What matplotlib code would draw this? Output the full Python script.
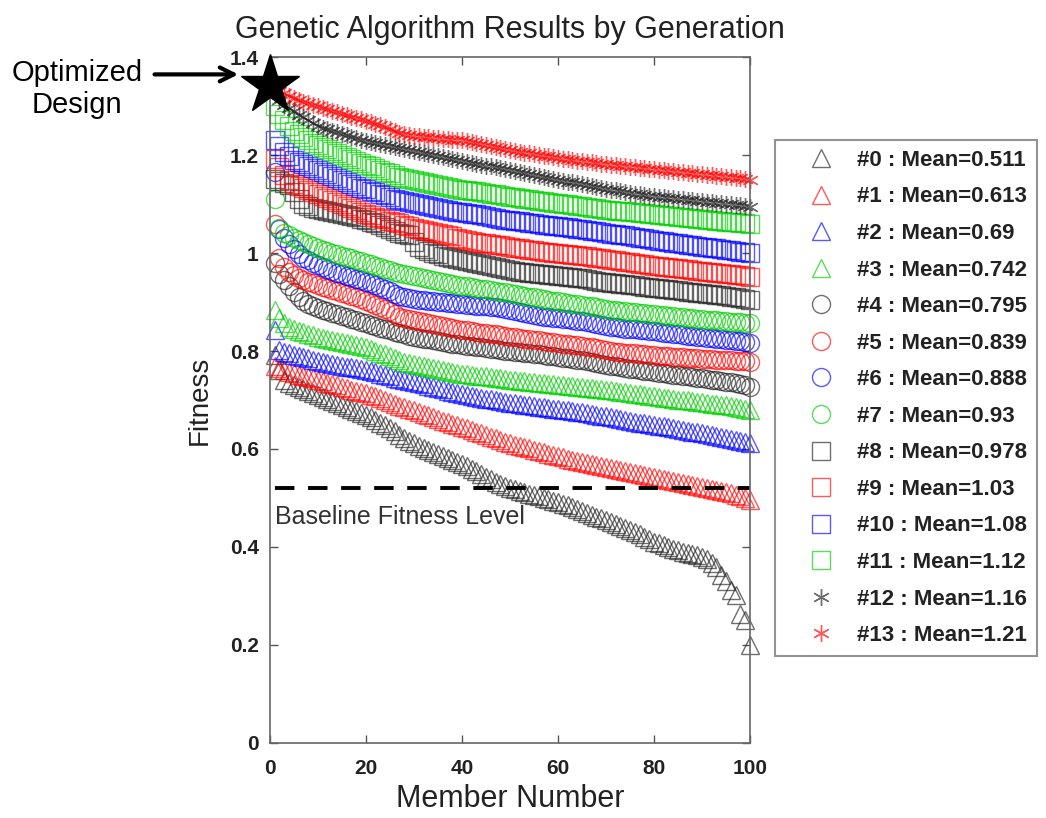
import matplotlib
matplotlib.use("Agg")
import matplotlib.pyplot as plt
from matplotlib.ticker import FixedLocator, FixedFormatter

plt.rcParams['font.family'] = ['Liberation Sans', 'DejaVu Sans']

# member numbers 1..100 (x axis)
members = list(range(1, 101))

# fitness of each member, sorted, one list per generation
gen0 = [0.792, 0.762, 0.740, 0.735, 0.730, 0.726, 0.722, 0.718, 0.714, 0.710,
        0.706, 0.702, 0.698, 0.694, 0.690, 0.686, 0.682, 0.678, 0.674, 0.670,
        0.665, 0.660, 0.654, 0.648, 0.642, 0.636, 0.628, 0.622, 0.617, 0.612,
        0.607, 0.602, 0.598, 0.594, 0.590, 0.586, 0.582, 0.578, 0.574, 0.570,
        0.565, 0.560, 0.555, 0.549, 0.543, 0.538, 0.533, 0.529, 0.525, 0.521,
        0.518, 0.515, 0.512, 0.509, 0.506, 0.503, 0.500, 0.497, 0.494, 0.491,
        0.488, 0.485, 0.481, 0.478, 0.474, 0.470, 0.466, 0.462, 0.458, 0.455,
        0.451, 0.447, 0.443, 0.439, 0.435, 0.430, 0.426, 0.421, 0.416, 0.411,
        0.407, 0.403, 0.399, 0.396, 0.393, 0.390, 0.388, 0.386, 0.383, 0.380,
        0.375, 0.368, 0.358, 0.342, 0.330, 0.312, 0.302, 0.262, 0.250, 0.200]
gen1 = [0.770, 0.766, 0.762, 0.758, 0.755, 0.752, 0.749, 0.746, 0.744, 0.741,
        0.738, 0.735, 0.732, 0.730, 0.727, 0.724, 0.721, 0.719, 0.716, 0.714,
        0.711, 0.708, 0.704, 0.700, 0.696, 0.692, 0.688, 0.685, 0.682, 0.679,
        0.676, 0.672, 0.669, 0.665, 0.662, 0.658, 0.655, 0.651, 0.648, 0.645,
        0.642, 0.638, 0.635, 0.632, 0.628, 0.625, 0.622, 0.619, 0.615, 0.612,
        0.609, 0.606, 0.603, 0.601, 0.598, 0.595, 0.593, 0.590, 0.588, 0.585,
        0.583, 0.580, 0.578, 0.576, 0.574, 0.572, 0.570, 0.568, 0.566, 0.564,
        0.562, 0.560, 0.558, 0.555, 0.553, 0.551, 0.549, 0.547, 0.545, 0.543,
        0.541, 0.539, 0.537, 0.535, 0.533, 0.531, 0.529, 0.527, 0.525, 0.523,
        0.521, 0.519, 0.517, 0.515, 0.513, 0.510, 0.507, 0.504, 0.500, 0.496]
gen2 = [0.842, 0.803, 0.798, 0.795, 0.792, 0.790, 0.787, 0.785, 0.782, 0.780,
        0.778, 0.776, 0.774, 0.772, 0.770, 0.768, 0.767, 0.765, 0.763, 0.761,
        0.759, 0.757, 0.754, 0.751, 0.748, 0.745, 0.742, 0.740, 0.738, 0.736,
        0.734, 0.732, 0.729, 0.727, 0.724, 0.722, 0.719, 0.717, 0.714, 0.712,
        0.710, 0.708, 0.707, 0.705, 0.703, 0.702, 0.700, 0.698, 0.696, 0.694,
        0.693, 0.691, 0.690, 0.689, 0.687, 0.686, 0.685, 0.683, 0.682, 0.681,
        0.680, 0.679, 0.677, 0.676, 0.675, 0.673, 0.672, 0.670, 0.668, 0.667,
        0.665, 0.663, 0.661, 0.660, 0.658, 0.656, 0.654, 0.653, 0.651, 0.649,
        0.647, 0.646, 0.644, 0.642, 0.640, 0.639, 0.637, 0.635, 0.634, 0.632,
        0.630, 0.628, 0.627, 0.625, 0.623, 0.621, 0.619, 0.617, 0.615, 0.612]
gen3 = [0.884, 0.868, 0.857, 0.850, 0.845, 0.841, 0.838, 0.835, 0.832, 0.829,
        0.827, 0.825, 0.823, 0.821, 0.819, 0.817, 0.815, 0.813, 0.811, 0.808,
        0.805, 0.801, 0.797, 0.793, 0.789, 0.785, 0.781, 0.778, 0.776, 0.774,
        0.772, 0.770, 0.768, 0.766, 0.764, 0.762, 0.760, 0.758, 0.756, 0.754,
        0.753, 0.752, 0.750, 0.749, 0.748, 0.747, 0.745, 0.744, 0.743, 0.741,
        0.740, 0.739, 0.738, 0.737, 0.736, 0.735, 0.734, 0.733, 0.732, 0.731,
        0.730, 0.729, 0.728, 0.727, 0.726, 0.725, 0.724, 0.723, 0.722, 0.721,
        0.720, 0.719, 0.717, 0.716, 0.715, 0.713, 0.712, 0.711, 0.709, 0.708,
        0.707, 0.705, 0.704, 0.703, 0.701, 0.700, 0.699, 0.697, 0.696, 0.695,
        0.694, 0.692, 0.691, 0.690, 0.689, 0.687, 0.686, 0.684, 0.682, 0.680]
gen4 = [0.980, 0.958, 0.945, 0.932, 0.920, 0.910, 0.902, 0.896, 0.891, 0.887,
        0.884, 0.881, 0.878, 0.875, 0.872, 0.869, 0.866, 0.863, 0.860, 0.857,
        0.854, 0.851, 0.848, 0.845, 0.842, 0.839, 0.836, 0.834, 0.831, 0.829,
        0.827, 0.825, 0.824, 0.822, 0.820, 0.819, 0.817, 0.815, 0.814, 0.812,
        0.811, 0.810, 0.809, 0.808, 0.806, 0.805, 0.804, 0.803, 0.801, 0.800,
        0.799, 0.798, 0.796, 0.795, 0.794, 0.793, 0.791, 0.790, 0.789, 0.788,
        0.786, 0.785, 0.784, 0.782, 0.781, 0.779, 0.778, 0.776, 0.774, 0.772,
        0.770, 0.769, 0.767, 0.766, 0.764, 0.763, 0.762, 0.760, 0.759, 0.757,
        0.756, 0.755, 0.753, 0.752, 0.751, 0.749, 0.748, 0.747, 0.745, 0.744,
        0.743, 0.741, 0.740, 0.739, 0.737, 0.736, 0.734, 0.732, 0.730, 0.727]
gen5 = [1.060, 0.990, 0.972, 0.962, 0.955, 0.950, 0.946, 0.942, 0.938, 0.934,
        0.931, 0.928, 0.925, 0.922, 0.919, 0.916, 0.913, 0.910, 0.906, 0.902,
        0.898, 0.894, 0.890, 0.886, 0.882, 0.876, 0.870, 0.867, 0.865, 0.863,
        0.861, 0.859, 0.857, 0.855, 0.853, 0.851, 0.849, 0.847, 0.845, 0.843,
        0.842, 0.840, 0.839, 0.837, 0.836, 0.835, 0.834, 0.832, 0.831, 0.829,
        0.828, 0.827, 0.825, 0.824, 0.823, 0.822, 0.820, 0.819, 0.818, 0.816,
        0.815, 0.814, 0.813, 0.812, 0.810, 0.809, 0.808, 0.806, 0.804, 0.802,
        0.800, 0.799, 0.798, 0.797, 0.796, 0.795, 0.794, 0.793, 0.792, 0.791,
        0.790, 0.789, 0.789, 0.788, 0.787, 0.787, 0.786, 0.785, 0.785, 0.784,
        0.783, 0.783, 0.782, 0.782, 0.781, 0.781, 0.780, 0.780, 0.779, 0.778]
gen6 = [1.165, 1.050, 1.030, 1.018, 1.008, 0.999, 0.991, 0.985, 0.980, 0.975,
        0.971, 0.967, 0.963, 0.960, 0.957, 0.954, 0.951, 0.948, 0.945, 0.942,
        0.939, 0.935, 0.931, 0.927, 0.922, 0.917, 0.912, 0.910, 0.908, 0.906,
        0.905, 0.904, 0.903, 0.902, 0.901, 0.900, 0.899, 0.898, 0.897, 0.896,
        0.895, 0.894, 0.893, 0.892, 0.891, 0.890, 0.889, 0.888, 0.886, 0.884,
        0.882, 0.880, 0.878, 0.876, 0.874, 0.872, 0.870, 0.869, 0.868, 0.867,
        0.866, 0.865, 0.864, 0.862, 0.861, 0.859, 0.858, 0.856, 0.854, 0.852,
        0.850, 0.849, 0.847, 0.846, 0.845, 0.844, 0.843, 0.842, 0.841, 0.840,
        0.839, 0.837, 0.836, 0.835, 0.834, 0.832, 0.831, 0.830, 0.829, 0.828,
        0.827, 0.826, 0.825, 0.824, 0.823, 0.822, 0.821, 0.820, 0.818, 0.816]
gen7 = [1.110, 1.052, 1.042, 1.036, 1.030, 1.026, 1.022, 1.018, 1.014, 1.010,
        1.007, 1.004, 1.001, 0.998, 0.995, 0.992, 0.989, 0.986, 0.983, 0.980,
        0.977, 0.974, 0.971, 0.968, 0.965, 0.962, 0.959, 0.957, 0.955, 0.953,
        0.951, 0.949, 0.947, 0.945, 0.943, 0.941, 0.939, 0.937, 0.935, 0.933,
        0.932, 0.930, 0.929, 0.927, 0.926, 0.924, 0.923, 0.921, 0.920, 0.918,
        0.916, 0.915, 0.913, 0.911, 0.910, 0.908, 0.906, 0.905, 0.903, 0.902,
        0.900, 0.899, 0.897, 0.896, 0.894, 0.893, 0.891, 0.889, 0.887, 0.886,
        0.884, 0.883, 0.882, 0.881, 0.880, 0.879, 0.878, 0.877, 0.876, 0.875,
        0.874, 0.873, 0.872, 0.871, 0.870, 0.869, 0.868, 0.867, 0.866, 0.865,
        0.864, 0.863, 0.863, 0.862, 0.861, 0.860, 0.860, 0.859, 0.858, 0.857]
gen8 = [1.152, 1.147, 1.143, 1.139, 1.125, 1.110, 1.101, 1.097, 1.093, 1.090,
        1.088, 1.086, 1.084, 1.082, 1.080, 1.078, 1.076, 1.073, 1.070, 1.067,
        1.064, 1.061, 1.057, 1.053, 1.049, 1.045, 1.042, 1.040, 1.038, 1.022,
        1.012, 1.008, 1.004, 1.001, 0.998, 0.995, 0.992, 0.989, 0.987, 0.985,
        0.983, 0.981, 0.979, 0.977, 0.975, 0.973, 0.971, 0.969, 0.967, 0.965,
        0.963, 0.962, 0.961, 0.960, 0.959, 0.958, 0.957, 0.956, 0.955, 0.954,
        0.953, 0.952, 0.951, 0.950, 0.949, 0.948, 0.946, 0.944, 0.942, 0.940,
        0.939, 0.938, 0.937, 0.936, 0.935, 0.934, 0.932, 0.931, 0.930, 0.929,
        0.928, 0.927, 0.926, 0.925, 0.924, 0.922, 0.921, 0.920, 0.919, 0.918,
        0.917, 0.916, 0.915, 0.914, 0.913, 0.911, 0.910, 0.908, 0.906, 0.904]
gen9 = [1.192, 1.175, 1.160, 1.150, 1.142, 1.137, 1.132, 1.128, 1.124, 1.120,
        1.116, 1.112, 1.108, 1.104, 1.100, 1.096, 1.092, 1.088, 1.084, 1.080,
        1.077, 1.074, 1.072, 1.069, 1.066, 1.064, 1.061, 1.058, 1.055, 1.052,
        1.050, 1.048, 1.046, 1.044, 1.042, 1.040, 1.037, 1.034, 1.031, 1.028,
        1.026, 1.024, 1.023, 1.021, 1.020, 1.019, 1.017, 1.016, 1.014, 1.012,
        1.011, 1.010, 1.008, 1.007, 1.006, 1.005, 1.003, 1.002, 1.001, 1.000,
        0.999, 0.998, 0.997, 0.996, 0.995, 0.994, 0.992, 0.991, 0.989, 0.988,
        0.986, 0.985, 0.984, 0.982, 0.981, 0.980, 0.978, 0.977, 0.976, 0.974,
        0.973, 0.972, 0.971, 0.970, 0.969, 0.968, 0.967, 0.965, 0.964, 0.963,
        0.962, 0.961, 0.960, 0.959, 0.958, 0.957, 0.956, 0.955, 0.953, 0.951]
gen10 = [1.232, 1.218, 1.207, 1.198, 1.190, 1.186, 1.182, 1.178, 1.174, 1.170,
         1.166, 1.162, 1.158, 1.154, 1.150, 1.146, 1.142, 1.138, 1.134, 1.130,
         1.127, 1.124, 1.121, 1.118, 1.115, 1.111, 1.108, 1.106, 1.104, 1.102,
         1.100, 1.098, 1.096, 1.094, 1.092, 1.090, 1.088, 1.086, 1.084, 1.083,
         1.082, 1.080, 1.079, 1.077, 1.076, 1.074, 1.072, 1.070, 1.068, 1.067,
         1.066, 1.065, 1.063, 1.062, 1.061, 1.060, 1.058, 1.057, 1.056, 1.055,
         1.054, 1.053, 1.052, 1.050, 1.049, 1.048, 1.046, 1.045, 1.043, 1.042,
         1.040, 1.039, 1.037, 1.036, 1.034, 1.033, 1.031, 1.030, 1.028, 1.027,
         1.025, 1.024, 1.023, 1.021, 1.020, 1.019, 1.017, 1.016, 1.015, 1.013,
         1.012, 1.011, 1.010, 1.008, 1.007, 1.006, 1.005, 1.003, 1.002, 1.000]
gen11 = [1.300, 1.285, 1.272, 1.260, 1.250, 1.243, 1.237, 1.231, 1.225, 1.220,
         1.216, 1.212, 1.208, 1.204, 1.200, 1.196, 1.192, 1.188, 1.184, 1.180,
         1.177, 1.174, 1.170, 1.166, 1.163, 1.159, 1.155, 1.153, 1.151, 1.149,
         1.147, 1.145, 1.143, 1.141, 1.139, 1.137, 1.135, 1.133, 1.131, 1.129,
         1.128, 1.127, 1.126, 1.124, 1.122, 1.121, 1.120, 1.118, 1.117, 1.115,
         1.114, 1.112, 1.111, 1.110, 1.108, 1.107, 1.106, 1.104, 1.103, 1.102,
         1.101, 1.100, 1.098, 1.097, 1.096, 1.095, 1.093, 1.092, 1.090, 1.089,
         1.088, 1.087, 1.086, 1.085, 1.084, 1.083, 1.082, 1.081, 1.080, 1.079,
         1.078, 1.077, 1.076, 1.075, 1.074, 1.073, 1.072, 1.071, 1.070, 1.069,
         1.068, 1.067, 1.066, 1.065, 1.064, 1.063, 1.063, 1.062, 1.061, 1.060]
gen12 = [1.325, 1.312, 1.303, 1.296, 1.290, 1.283, 1.277, 1.271, 1.265, 1.260,
         1.256, 1.253, 1.250, 1.247, 1.244, 1.241, 1.238, 1.235, 1.232, 1.229,
         1.227, 1.225, 1.223, 1.221, 1.219, 1.217, 1.215, 1.213, 1.211, 1.209,
         1.207, 1.204, 1.202, 1.200, 1.198, 1.196, 1.194, 1.192, 1.190, 1.188,
         1.186, 1.184, 1.182, 1.180, 1.178, 1.177, 1.176, 1.174, 1.172, 1.170,
         1.168, 1.166, 1.164, 1.162, 1.160, 1.158, 1.156, 1.154, 1.152, 1.150,
         1.148, 1.146, 1.145, 1.143, 1.141, 1.139, 1.137, 1.135, 1.133, 1.131,
         1.129, 1.128, 1.126, 1.124, 1.123, 1.121, 1.120, 1.118, 1.117, 1.116,
         1.115, 1.114, 1.113, 1.112, 1.111, 1.110, 1.109, 1.108, 1.107, 1.106,
         1.105, 1.104, 1.103, 1.102, 1.101, 1.100, 1.099, 1.098, 1.097, 1.095]
gen13 = [1.338, 1.331, 1.326, 1.321, 1.317, 1.313, 1.309, 1.306, 1.303, 1.300,
         1.297, 1.294, 1.291, 1.288, 1.285, 1.282, 1.279, 1.276, 1.273, 1.270,
         1.267, 1.264, 1.261, 1.258, 1.254, 1.250, 1.246, 1.243, 1.241, 1.240,
         1.239, 1.238, 1.237, 1.236, 1.235, 1.234, 1.233, 1.232, 1.231, 1.230,
         1.228, 1.226, 1.224, 1.222, 1.220, 1.218, 1.216, 1.214, 1.212, 1.210,
         1.208, 1.207, 1.205, 1.204, 1.202, 1.201, 1.199, 1.198, 1.196, 1.195,
         1.193, 1.192, 1.190, 1.189, 1.188, 1.187, 1.186, 1.184, 1.183, 1.182,
         1.180, 1.179, 1.178, 1.177, 1.176, 1.175, 1.174, 1.173, 1.172, 1.171,
         1.170, 1.169, 1.168, 1.167, 1.166, 1.165, 1.164, 1.163, 1.162, 1.161,
         1.160, 1.159, 1.158, 1.157, 1.156, 1.155, 1.154, 1.153, 1.151, 1.149]

generations = [gen0, gen1, gen2, gen3, gen4, gen5, gen6,
               gen7, gen8, gen9, gen10, gen11, gen12, gen13]
gen_labels = ['#0 : Mean=0.511', '#1 : Mean=0.613', '#2 : Mean=0.69',
              '#3 : Mean=0.742', '#4 : Mean=0.795', '#5 : Mean=0.839',
              '#6 : Mean=0.888', '#7 : Mean=0.93', '#8 : Mean=0.978',
              '#9 : Mean=1.03', '#10 : Mean=1.08', '#11 : Mean=1.12',
              '#12 : Mean=1.16', '#13 : Mean=1.21']

baseline = 0.52
best_member = 0
best_fitness = 1.343

xticks = [0, 20, 40, 60, 80, 100]
yticks = [0, 0.2, 0.4, 0.6, 0.8, 1.0, 1.2, 1.4]
ytick_labels = ['0', '0.2', '0.4', '0.6', '0.8', '1', '1.2', '1.4']

colors = ['#222222', '#ff0000', '#0000ff', '#00cc00']
markers = ['^', '^', '^', '^', 'o', 'o', 'o', 'o', 's', 's', 's', 's', (6, 2, 0), (6, 2, 0)]

fig = plt.figure(figsize=(10.46, 8.18), dpi=100)
ax = fig.add_axes([0.258, 0.092, 0.459, 0.838])

for i, vals in enumerate(generations):
    ax.plot(members, vals, linestyle='none', marker=markers[i],
            markersize=13 if i < 12 else 12, markerfacecolor='none',
            markeredgecolor=colors[i % 4], markeredgewidth=1.0, alpha=0.65,
            clip_on=False, label=gen_labels[i])

ax.plot([1, 100], [baseline, baseline], color='black', linestyle=(0, (5, 3.5)), linewidth=2.8)
ax.text(1, baseline - 0.058, 'Baseline Fitness Level', fontsize=18, color='#333333',
        va='center', ha='left')

ax.plot([best_member], [best_fitness], marker='*', markersize=44, color='black',
        clip_on=False, zorder=10)
ax.annotate('', xy=(-6.0, best_fitness + 0.022), xycoords='data',
            xytext=(-24.6, best_fitness + 0.022), textcoords='data',
            arrowprops=dict(arrowstyle='->', lw=3, color='black', mutation_scale=25),
            annotation_clip=False)
fig.text(0.074, 0.911, 'Optimized', fontsize=21, ha='center', va='center')
fig.text(0.074, 0.872, 'Design', fontsize=21, ha='center', va='center')

ax.set_xlim(0, 100)
ax.set_ylim(0, 1.4)
ax.xaxis.set_major_locator(FixedLocator(xticks))
ax.yaxis.set_major_locator(FixedLocator(yticks))
ax.yaxis.set_major_formatter(FixedFormatter(ytick_labels))
ax.tick_params(direction='in', top=True, right=True, length=6, width=1,
               color='#555555', labelsize=15)
ax.tick_params(axis='x', pad=12)
ax.tick_params(axis='y', pad=8)
for lab in ax.get_xticklabels() + ax.get_yticklabels():
    lab.set_fontweight('bold')
    lab.set_color('#222222')
for s in ax.spines.values():
    s.set_color('#666666')
    s.set_linewidth(1.2)

ax.set_title('Genetic Algorithm Results by Generation', fontsize=22, color='#222222', pad=14)
ax.set_xlabel('Member Number', fontsize=22, color='#222222', labelpad=4)
ax.set_ylabel('Fitness', fontsize=20, color='#222222', labelpad=12)

leg = fig.legend(loc='upper left', bbox_to_anchor=(0.741, 0.829), fontsize=16,
                 frameon=True, fancybox=False, edgecolor='#777777',
                 labelspacing=0.70, handletextpad=0.05, borderpad=0.45,
                 handlelength=3.2, borderaxespad=0)
leg.get_frame().set_linewidth(1.5)
for t in leg.get_texts():
    t.set_fontweight('bold')
    t.set_color('#222222')

fig.savefig('out.png', dpi=100)
